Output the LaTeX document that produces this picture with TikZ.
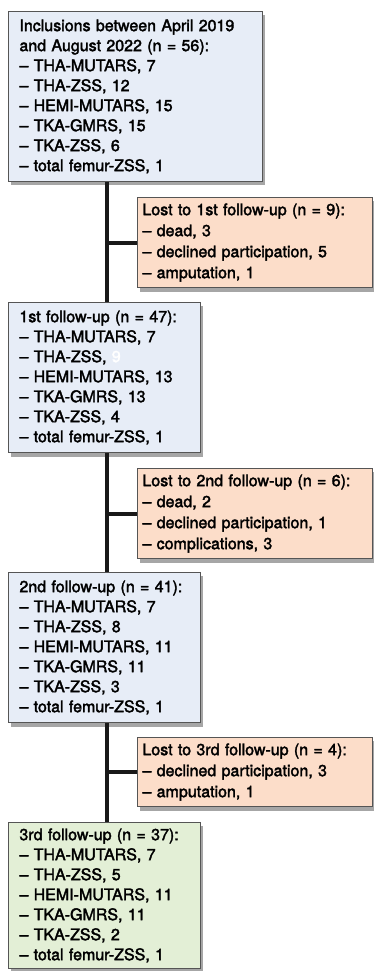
\documentclass[tikz,border=0pt]{standalone}
\usepackage{fontspec}
\setmainfont{TeX Gyre Heros}[UprightFeatures={FakeBold=2.2}]
\usepackage{tikz}
\usetikzlibrary{shadows}
\definecolor{fillblue}{RGB}{231,237,247}
\definecolor{fillpeach}{RGB}{252,221,201}
\definecolor{fillgreen}{RGB}{227,239,214}
\definecolor{boxline}{RGB}{85,85,85}

\begin{document}
\begin{tikzpicture}[x=1pt,y=-1pt,
   every node/.style={anchor=north west,align=left,draw=boxline,line width=0.9pt,
      font=\fontsize{16}{20}\selectfont,
      drop shadow={shadow xshift=3pt,shadow yshift=-4pt,fill=black,opacity=.35}},
   stagebox/.style={fill=fillblue,inner xsep=11pt,inner ysep=8pt},
   lostbox/.style={fill=fillpeach,inner xsep=5pt,inner ysep=6pt,text width=225pt,
      font=\fontsize{16}{21}\selectfont},
   endbox/.style={stagebox,fill=fillgreen,inner ysep=6pt},
   trunk/.style={line width=4pt,black!90}]
\useasboundingbox (0,0) rectangle (374,971);
\node[stagebox,text width=232pt] (incl) at (8,11)
   {Inclusions between April 2019\\and August 2022 (n = 56):\\
    – THA-MUTARS, 7\\– THA-ZSS, 12\\– HEMI-MUTARS, 15\\– TKA-GMRS, 15\\
    – TKA-ZSS, 6\\– total femur-ZSS, 1};
\node[lostbox] (lost1) at (137,197)
   {Lost to 1st follow-up (n = 9):\\– dead, 3\\– declined participation, 5\\– amputation, 1};
\node[stagebox,text width=170pt] (fu1) at (8,302)
   {1st follow-up (n = 47):\\– THA-MUTARS, 7\\– THA-ZSS, \textcolor{white}{9}\\
    – HEMI-MUTARS, 13\\– TKA-GMRS, 13\\– TKA-ZSS, 4\\– total femur-ZSS, 1};
\node[lostbox] (lost2) at (137,468)
   {Lost to 2nd follow-up (n = 6):\\– dead, 2\\– declined participation, 1\\– complications, 3};
\node[stagebox,text width=170pt] (fu2) at (8,572)
   {2nd follow-up (n = 41):\\– THA-MUTARS, 7\\– THA-ZSS, 8\\
    – HEMI-MUTARS, 11\\– TKA-GMRS, 11\\– TKA-ZSS, 3\\– total femur-ZSS, 1};
\node[lostbox] (lost3) at (137,737)
   {Lost to 3rd follow-up (n = 4):\\– declined participation, 3\\– amputation, 1};
\node[endbox,text width=170pt] (fu3) at (8,822)
   {3rd follow-up (n = 37):\\– THA-MUTARS, 7\\– THA-ZSS, 5\\
    – HEMI-MUTARS, 11\\– TKA-GMRS, 11\\– TKA-ZSS, 2\\– total femur-ZSS, 1};
\coordinate (tr) at (107,0);
\draw[trunk] (incl.south -| tr) -- (fu1.north -| tr);
\draw[trunk] (fu1.south -| tr) -- (fu2.north -| tr);
\draw[trunk] (fu2.south -| tr) -- (fu3.north -| tr);
\draw[trunk] (lost1.west -| tr) -- (lost1.west);
\draw[trunk] (lost2.west -| tr) -- (lost2.west);
\draw[trunk] (lost3.west -| tr) -- (lost3.west);
\end{tikzpicture}
\end{document}
